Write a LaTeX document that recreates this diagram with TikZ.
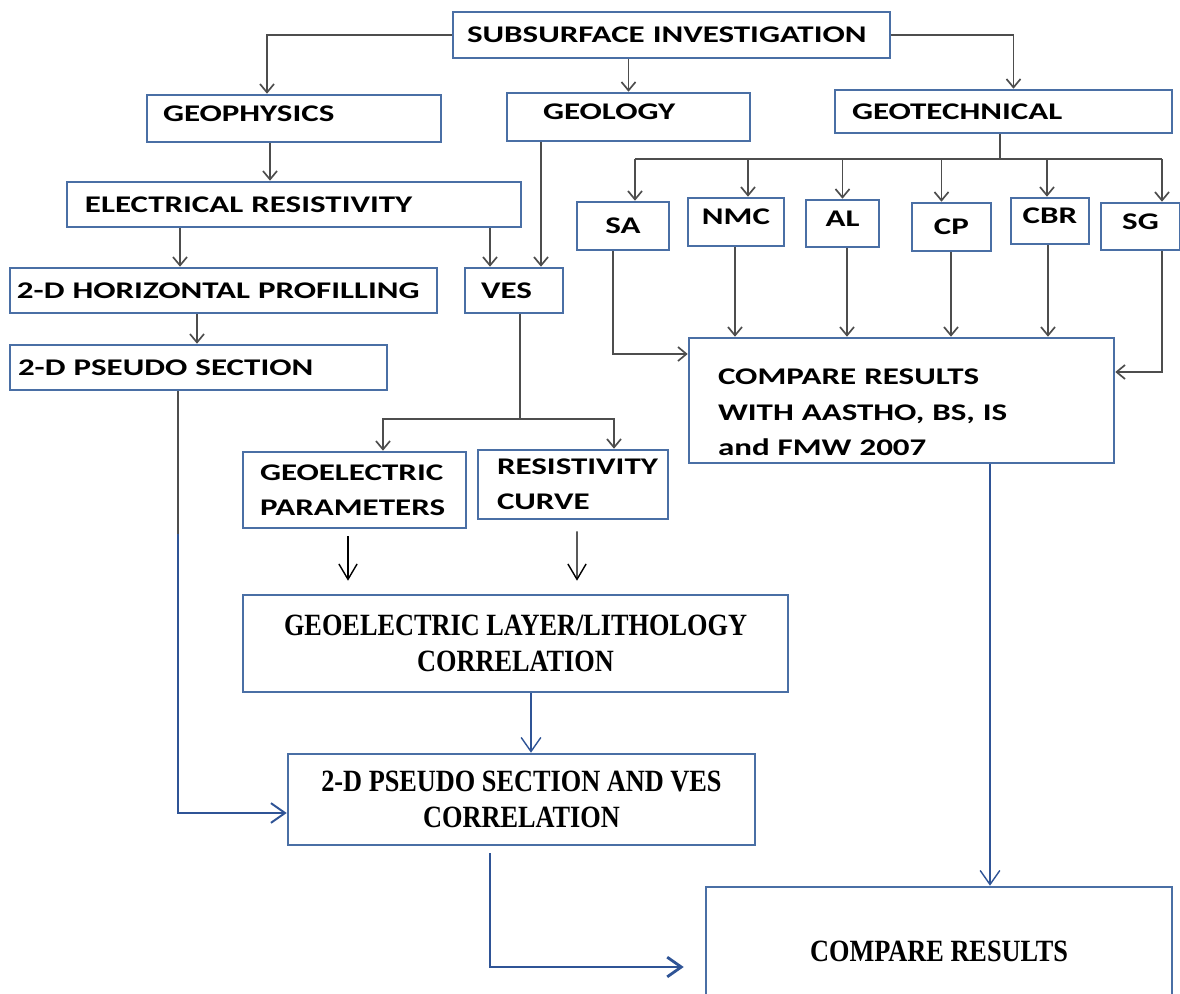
\documentclass[tikz,border=0pt]{standalone}
\usepackage{fontspec}
\usetikzlibrary{arrows.meta,calc,positioning}
\newfontfamily\boxsans[FakeStretch=1.38]{Carlito}
\newfontfamily\boxserif[FakeStretch=0.85]{Liberation Serif}
\definecolor{boxblue}{HTML}{4A6FA5}
\definecolor{linegray}{HTML}{4D4D4D}
\definecolor{lineblue}{HTML}{2F5496}

\begin{document}
\begin{tikzpicture}[x=0.025cm,y=-0.025cm,
  box/.style={draw=boxblue,line width=1.8pt,inner sep=0pt,fill=white},
  sbox/.style={box,font=\boxsans\bfseries\fontsize{17}{25}\selectfont},
  tbox/.style={box,font=\boxserif\bfseries\fontsize{22}{26}\selectfont,align=center},
  sz/.style 2 args={minimum width=#1*0.025cm,minimum height=#2*0.025cm},
  lt/.style 2 args={text width=(#1-2*#2)*0.025cm,inner xsep=#2*0.025cm,align=left},
  hi/.style={text depth=7pt},
  garr/.style={-{Straight Barb[length=6pt,width=10pt]},draw=linegray,line width=1.2pt},
  gline/.style={draw=linegray,line width=1.2pt},
  karr/.style={-{Straight Barb[length=11pt,width=13pt]},draw=black,line width=1pt},
  barr/.style={-{Straight Barb[length=10pt,width=14pt]},draw=lineblue,line width=1pt}]
  \useasboundingbox (0,0) rectangle (1180,994);

  \node[sbox,sz={437}{46},lt={437}{14}] (sub) at (671.5,35) {SUBSURFACE INVESTIGATION};
  \node[sbox,sz={294}{47},lt={294}{16},hi] (geophys) at (294,118.5) {GEOPHYSICS};
  \node[sbox,sz={243}{48},lt={243}{36},hi] (geology) at (628.5,117) {GEOLOGY};
  \node[sbox,sz={337}{43},lt={337}{17}] (geotech) at (1003.5,111.5) {GEOTECHNICAL};
  \node[sbox,sz={454}{45},lt={454}{18}] (elec) at (294,204.5) {ELECTRICAL RESISTIVITY};
  \node[sbox,sz={427}{45},lt={427}{7}] (horiz) at (223.5,290.5) {2-D HORIZONTAL PROFILLING};
  \node[sbox,sz={98}{45},lt={98}{16}] (ves) at (514,290.5) {VES};
  \node[sbox,sz={377}{45},lt={377}{8}] (pseudo) at (198.5,367.5) {2-D PSEUDO SECTION};
  \node[sbox,sz={92}{48}] (sa) at (623,226) {SA};
  \node[sbox,sz={96}{48},hi] (nmc) at (736,222) {NMC};
  \node[sbox,sz={73}{47},hi] (al) at (842.5,223.5) {AL};
  \node[sbox,sz={79}{48}] (cp) at (951.5,227) {CP};
  \node[sbox,sz={78}{46},hi] (cbr) at (1050,221) {CBR};
  \node[sbox,sz={79}{47},hi] (sg) at (1140.5,226.5) {SG};
  \node[sbox,sz={425}{125},lt={425}{29},text height=28pt] (cmpstd) at (901.5,400.5) {COMPARE RESULTS\\WITH AASTHO, BS, IS\\and FMW 2007};
  \node[sbox,sz={223}{76},lt={223}{17}] (geopar) at (354.5,490) {GEOELECTRIC\\PARAMETERS};
  \node[sbox,sz={190}{69},lt={190}{19}] (rescurve) at (573,484.5) {RESISTIVITY\\CURVE};
  \node[tbox,sz={545}{97}] (layer) at (515.5,643.5) {GEOELECTRIC LAYER/LITHOLOGY\\CORRELATION};
  \node[tbox,sz={467}{91}] (corr) at (521.5,799.5) {2-D PSEUDO SECTION AND VES\\CORRELATION};
  \node[tbox,sz={466}{128}] (cmpres) at (939,951) {COMPARE RESULTS};

  \draw[garr] (sub.west) -| ($(geophys.north)+(-27,0)$);
  \draw[garr] (geology.north |- sub.south) -- (geology.north);
  \draw[garr] (sub.east) -| ($(geotech.north)+(10,0)$);
  \path ($(geophys.south)+(-24,0)$) coordinate (g0);
  \draw[garr] (g0) -- (g0 |- elec.north);
  \path ($(elec.south)+(-114,0)$) coordinate (e1);
  \draw[garr] (e1) -- (e1 |- horiz.north);
  \path ($(elec.south)+(196,0)$) coordinate (e2);
  \draw[garr] (e2) -- (e2 |- ves.north);
  \path ($(geology.south)+(-87.5,0)$) coordinate (g1);
  \draw[garr] (g1) -- (g1 |- ves.north);
  \path ($(horiz.south)+(-26.5,0)$) coordinate (h1);
  \draw[garr] (h1) -- (h1 |- pseudo.north);

  \draw[gline] ($(ves.south)+(6,0)$) -- ++(0,105) coordinate (v2);
  \draw[garr] (v2) -| ($(geopar.north)+(28.5,0)$);
  \draw[garr] (v2) -| ($(rescurve.north)+(41,0)$);

  \draw[gline] ($(geotech.south)+(-3.5,0)$) -- ++(0,25) coordinate (bus);
  \draw[gline] ($(bus)+(-365,0)$) -- ($(bus)+(162,0)$);
  \foreach \n/\d in {sa/12,nmc/12,al/0,cp/-10,cbr/-3,sg/21.5}{
    \path ($(\n.north)+(\d,0)$) coordinate (tp);
    \draw[garr] (tp |- bus) -- (tp);
  }
  \draw[garr] ($(sa.south)+(-10,0)$) |- ($(cmpstd.west)+(0,-46.5)$);
  \foreach \n/\d in {nmc/-1,al/4.5,cp/-0.5,cbr/-2}{
    \path ($(\n.south)+(\d,0)$) coordinate (bp);
    \draw[garr] (bp) -- (bp |- cmpstd.north);
  }
  \draw[garr] ($(sg.south)+(21.5,0)$) |- ($(cmpstd.east)+(0,-28.5)$);

  \draw[karr] ($(geopar.south)+(-6.5,7)$) -- ($(layer.north)+(-167.5,-13)$);
  \draw[karr] ($(rescurve.south)+(4,11)$) -- ($(layer.north)+(61.5,-13)$);
  \path ($(layer.south)+(15.5,0)$) coordinate (l1);
  \draw[barr] (l1) -- (l1 |- corr.north);

  \draw[gline] ($(pseudo.south)+(-20.5,0)$) -- ++(0,143) coordinate (p2);
  \draw[barr,line width=1.4pt] (p2) |- ($(corr.west)+(0,13.5)$);
  \path ($(cmpstd.south)+(88.5,0)$) coordinate (c1);
  \draw[barr] (c1) -- (c1 |- cmpres.north);
  \draw[barr,line width=2pt] ($(corr.south)+(-31.5,7)$) |- ($(cmpres.west)+(-21,16)$);
\end{tikzpicture}
\end{document}
